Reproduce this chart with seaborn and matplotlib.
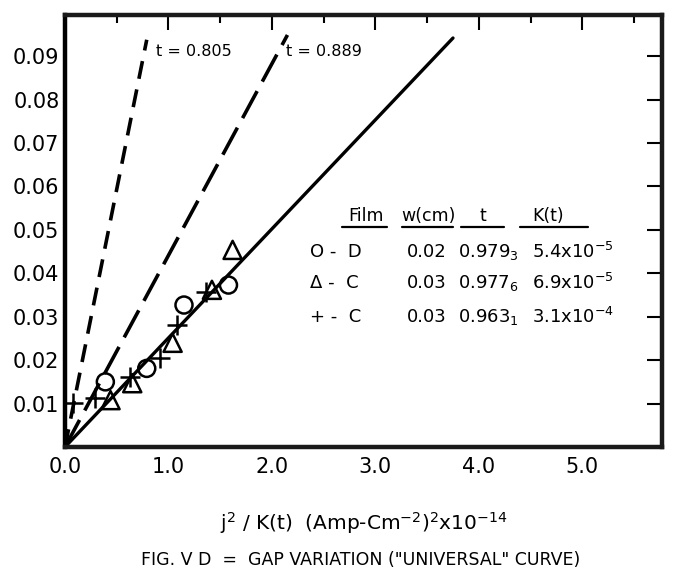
import numpy as np
import pandas as pd
import matplotlib
matplotlib.use("Agg")
import matplotlib.pyplot as plt
import seaborn as sns

# --- data ---
circle_x = [0.39, 0.79, 1.15, 1.58]
circle_y = [0.0150, 0.0181, 0.0327, 0.0373]
tri_x = [0.44, 0.65, 1.04, 1.42, 1.62]
tri_y = [0.0108, 0.0147, 0.0240, 0.0362, 0.0454]
plus_x = [0.08, 0.29, 0.63, 0.92, 1.08, 1.36]
plus_y = [0.0101, 0.0112, 0.0162, 0.0205, 0.0280, 0.0358]

# reference lines from the origin (end points)
line_805_x = [0.0, 0.79]
line_805_y = [0.0, 0.0938]
line_889_x = [0.0, 2.15]
line_889_y = [0.0, 0.0949]
line_fit_x = [0.0, 3.75]
line_fit_y = [0.0, 0.0942]

x_ticks = [0.0, 1.0, 2.0, 3.0, 4.0, 5.0]
y_ticks = [0.01, 0.02, 0.03, 0.04, 0.05, 0.06, 0.07, 0.08, 0.09]

table_header = ["Film", "w(cm)", "t", "K(t)"]
table_sym = ["O -  D", "Δ -  C", "+ -  C"]
table_w = ["0.02", "0.03", "0.03"]
table_t = ["0.979$_3$", "0.977$_6$", "0.963$_1$"]
table_k = ["5.4x10$^{-5}$", "6.9x10$^{-5}$", "3.1x10$^{-4}$"]

df = pd.concat([
    pd.DataFrame({"x": circle_x, "y": circle_y, "film": "D circle"}),
    pd.DataFrame({"x": tri_x, "y": tri_y, "film": "C triangle"}),
    pd.DataFrame({"x": plus_x, "y": plus_y, "film": "C plus"}),
])

sns.set_style("white")
plt.rcParams["font.family"] = ["DejaVu Sans"]
plt.rcParams["mathtext.fontset"] = "dejavusans"
plt.rcParams["text.color"] = "black"
plt.rcParams["axes.labelcolor"] = "black"

fig = plt.figure(figsize=(6.74, 5.69), dpi=100, facecolor="white")
ax = fig.add_axes([65 / 674, 1 - 447 / 569, 597 / 674, 432 / 569])

# lines
sns.lineplot(x=line_805_x, y=line_805_y, ax=ax, color="black", lw=2.6,
             linestyle=(0, (5, 3)))
sns.lineplot(x=line_889_x, y=line_889_y, ax=ax, color="black", lw=2.6,
             linestyle=(0, (8.5, 3)))
sns.lineplot(x=line_fit_x, y=line_fit_y, ax=ax, color="black", lw=2.4)

# points
d = df[df.film == "D circle"]
sns.scatterplot(x=d.x, y=d.y, ax=ax, marker="o", s=150, facecolor="none",
                edgecolor="black", linewidth=1.8, zorder=3)
d = df[df.film == "C triangle"]
sns.scatterplot(x=d.x, y=d.y, ax=ax, marker="^", s=170, facecolor="none",
                edgecolor="black", linewidth=1.8, zorder=3)
d = df[df.film == "C plus"]
sns.scatterplot(x=d.x, y=d.y, ax=ax, marker="+", s=220, color="black",
                linewidth=1.8, zorder=3)

ax.set_xlim(0, 5.77)
ax.set_ylim(0, 0.0995)
ax.set_xticks(x_ticks)
ax.set_xticklabels([f"{v:.1f}" for v in x_ticks])
ax.set_xticks(np.arange(0.5, 5.6, 1.0), minor=True)
ax.set_yticks(y_ticks)
ax.set_yticklabels([f"{v:.2f}" for v in y_ticks])

ax.tick_params(axis="both", which="major", direction="in", length=11, width=1.5,
               top=True, right=True, colors="black", labelsize=15)
ax.tick_params(axis="x", which="major", pad=7)
ax.tick_params(axis="y", which="major", pad=4)
ax.tick_params(axis="x", which="minor", direction="in", length=6, width=1.5,
               top=True, colors="black")
for s in ax.spines.values():
    s.set_linewidth(3.2)
    s.set_color("#1a1a1a")
ax.spines["left"].set_color("black")

ax.set_xlabel(r"j$^2$ / K(t)  (Amp-Cm$^{-2}$)$^2$x10$^{-14}$", fontsize=14.5,
              labelpad=24)
ax.set_ylabel("")

# line labels
ax.text(0.88, 0.0912, "t = 0.805", fontsize=11.5, va="center", ha="left")
ax.text(2.14, 0.0912, "t = 0.889", fontsize=11.5, va="center", ha="left")

# table legend
head_x = [2.91, 3.51, 4.04, 4.67]
rule_x = [(2.68, 3.11), (3.26, 3.75), (3.83, 4.24), (4.40, 5.05)]
for h, hx, (r0, r1) in zip(table_header, head_x, rule_x):
    ax.text(hx, 0.0532, h, fontsize=12.5, ha="center", va="center")
    ax.plot([r0, r1], [0.0507, 0.0507], color="black", lw=1.6)
row_y = [0.0449, 0.0378, 0.0300]
for i, ry in enumerate(row_y):
    ax.text(2.37, ry, table_sym[i], fontsize=13, ha="left", va="center")
    ax.text(3.30, ry, table_w[i], fontsize=13, ha="left", va="center")
    ax.text(3.80, ry, table_t[i], fontsize=13, ha="left", va="center")
    ax.text(4.51, ry, table_k[i], fontsize=13, ha="left", va="center")

fig.text(0.535, 1 - 560 / 569, "FIG. V D  =  GAP VARIATION (\"UNIVERSAL\" CURVE)",
         fontsize=12.5, ha="center", va="center")

fig.savefig("out.png", dpi=100, facecolor="white")
